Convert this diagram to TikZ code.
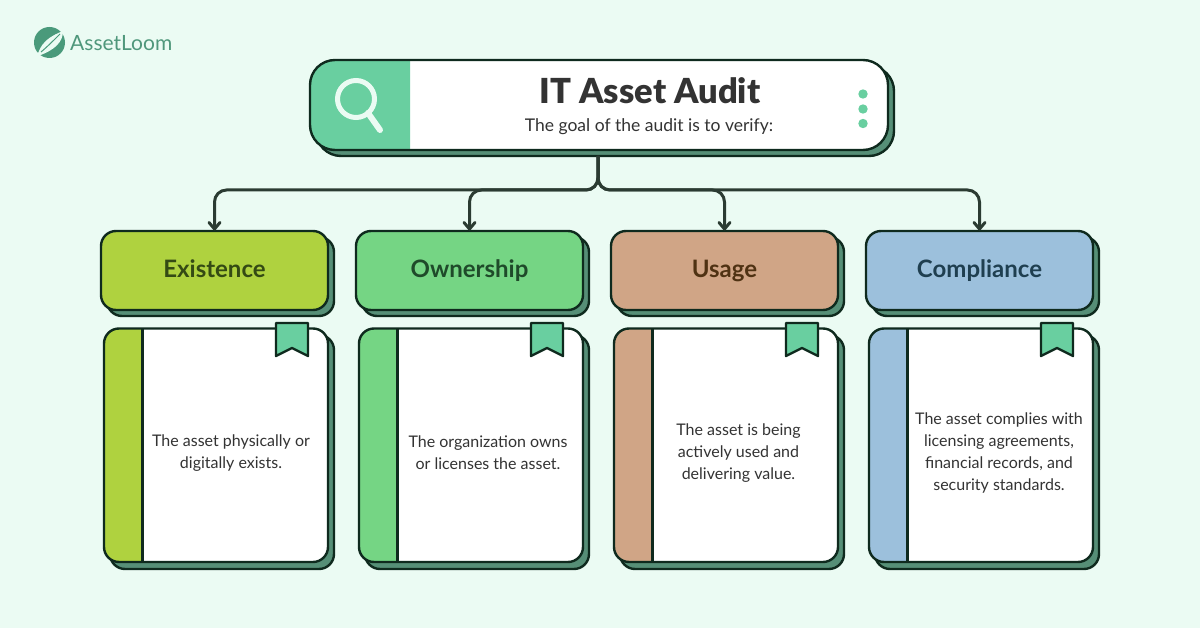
\documentclass[tikz,border=0pt]{standalone}
\usepackage{fontspec}
\setmainfont{Lato}
\newfontfamily\heavyf{Lato Black}
\definecolor{bgc}{HTML}{EBFBF3}
\definecolor{ink}{HTML}{0F2A1E}
\definecolor{line}{HTML}{2B3B32}
\definecolor{shade}{HTML}{568F77}
\definecolor{mint}{HTML}{69CFA0}
\definecolor{cA}{HTML}{AFD23F}
\definecolor{cB}{HTML}{75D584}
\definecolor{cC}{HTML}{D0A586}
\definecolor{cD}{HTML}{9CC0DC}
\definecolor{logoc}{HTML}{4A9A7B}
\definecolor{txt}{HTML}{333333}
\definecolor{hA}{HTML}{344A14}
\definecolor{hB}{HTML}{1F4A2A}
\definecolor{hC}{HTML}{4F3213}
\definecolor{hD}{HTML}{1F3F50}
\tikzset{
  x=1pt,y=-1pt,
  outl/.style={draw=ink,line width=2.4pt},
  conn/.style={draw=line,line width=3pt,rounded corners=12pt},
  tip/.style={draw=line,line width=3pt,line cap=round,line join=round},
  headlab/.style={font=\bfseries\fontsize{24}{28}\selectfont,text=#1,inner sep=0pt,anchor=base},
  bodylab/.style={font=\fontsize{16}{22}\selectfont,text=txt,align=center,inner sep=0pt,anchor=center},
  anchorbox/.style={inner sep=0pt,outer sep=0pt,minimum width=0pt,minimum height=0pt},
}
% #1 x-offset, #2 colour, #3 name
\newcommand{\column}[3]{%
  \begin{scope}[xshift=#1pt]
    \path[fill=shade,outl,rounded corners=15pt] (107,237) rectangle (334,316);
    \path[fill=#2,outl,rounded corners=15pt] (101,231) rectangle (328,310);
    \node[anchorbox,minimum width=227pt,minimum height=79pt] (#3) at (214.5,270.5) {};
    \path[fill=shade,outl,rounded corners=15pt] (110,335) rectangle (334,569);
    \path[fill=white,rounded corners=15pt] (104,328.5) rectangle (328,562);
    \begin{scope}
      \clip (104,320) rectangle (142.5,570);
      \path[fill=#2,rounded corners=15pt] (104,328.5) rectangle (328,562);
    \end{scope}
    \path[outl,rounded corners=15pt] (104,328.5) rectangle (328,562);
    \draw[ink,line width=2.4pt] (142.5,328.5) -- (142.5,562);
    \path[fill=mint,outl,line join=round] (276,323) -- (308,323) -- (308,356) -- (292,348) -- (276,356) -- cycle;
  \end{scope}
}
\begin{document}
\begin{tikzpicture}
\useasboundingbox (0,0) rectangle (1200,628);
\fill[bgc] (0,0) rectangle (1200,628);
% logo
\fill[logoc] (49.5,42.5) circle (15.5);
\fill[bgc] (36,58) .. controls (40,50) and (40,40) .. (63,31) .. controls (63,42) and (55,50) .. (38,56) -- cycle;
\draw[logoc,line width=1pt] (41,52) .. controls (47,47) and (53,41) .. (60,34);
\node[font=\fontsize{21}{25}\selectfont,text=logoc!90!gray,inner sep=0pt,anchor=west] (logo) at (70,43) {AssetLoom};
% title
\path[fill=shade,outl,rounded corners=25pt] (316,66) rectangle (894,156);
\path[fill=white,rounded corners=25pt] (310,60) rectangle (888,150);
\begin{scope}
  \clip (300,50) rectangle (410,160);
  \path[fill=mint,rounded corners=25pt] (310,60) rectangle (888,150);
\end{scope}
\path[outl,rounded corners=25pt] (310,60) rectangle (888,150);
\node[anchorbox,minimum width=578pt,minimum height=96pt] (title) at (598,108) {};
\draw[bgc,line width=5pt] (356,99) circle (18.5);
\draw[bgc,line width=6pt,line cap=round] (368,113) -- (380,130);
\node[font=\heavyf\fontsize{34.5}{40}\selectfont,text=txt,inner sep=0pt,anchor=base] (ttl) at (650,104) {IT Asset Audit};
\node[font=\fontsize{17.5}{21}\selectfont,text=txt,inner sep=0pt,anchor=base] (sub) at (649,132) {The goal of the audit is to verify:};
\fill[mint] (863,94) circle (4.7);
\fill[mint] (863,109) circle (4.7);
\fill[mint] (863,123.5) circle (4.7);
% columns
\column{0}{cA}{boxA}
\column{255}{cB}{boxB}
\column{510}{cC}{boxC}
\column{765}{cD}{boxD}
% connectors
\coordinate (bus) at (598,190);
\foreach \n in {boxA,boxB,boxC,boxD}{
  \draw[conn] (title.south) -- (bus) -- (bus -| \n.north) -- ([yshift=2pt]\n.north);
  \draw[tip] ([xshift=-5.5pt,yshift=8.5pt]\n.north) -- ([yshift=2pt]\n.north) -- ([xshift=5.5pt,yshift=8.5pt]\n.north);
}
% labels
\node[headlab=hA] (lA) at (214.5,277.5) {Existence};
\node[headlab=hB] (lB) at (469.5,277.5) {Ownership};
\node[headlab=hC] (lC) at (724.5,277.5) {Usage};
\node[headlab=hD] (lD) at (979.5,277.5) {Compliance};
\node[bodylab] (tA) at (231,453) {The asset physically or\\digitally exists.};
\node[bodylab] (tB) at (488,453) {The organization owns\\or licenses the asset.};
\node[bodylab] (tC) at (738.5,453) {The asset is being\\actively used and\\delivering value.};
\node[bodylab] (tD) at (999,453) {The asset complies with\\licensing agreements,\\financial records, and\\security standards.};
\end{tikzpicture}
\end{document}
